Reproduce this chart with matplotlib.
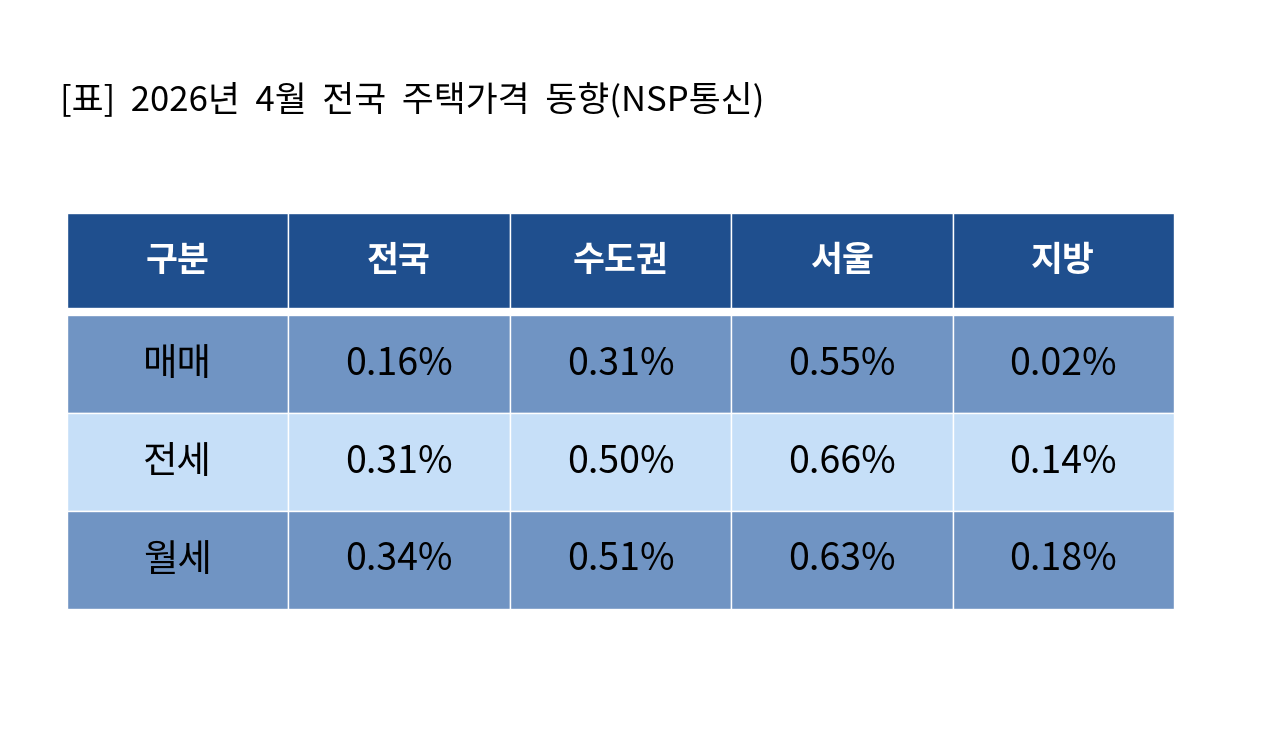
import matplotlib
matplotlib.use("Agg")
import matplotlib.pyplot as plt
from matplotlib.patches import Rectangle

plt.rcParams['font.family'] = ['Noto Sans CJK KR', 'DejaVu Sans']

title = "[표]  2026년  4월  전국  주택가격  동향(NSP통신)"
columns = ["구분", "전국", "수도권", "서울", "지방"]
row_labels = ["매매", "전세", "월세"]
values = [
    ["0.16%", "0.31%", "0.55%", "0.02%"],
    ["0.31%", "0.50%", "0.66%", "0.14%"],
    ["0.34%", "0.51%", "0.63%", "0.18%"],
]

fig = plt.figure(figsize=(12.8, 7.48), dpi=100)
ax = fig.add_axes([0, 0, 1, 1])
ax.set_xlim(0, 1280); ax.set_ylim(748, 0); ax.axis('off')

x0, x1 = 67, 1174
colw = (x1 - x0) / len(columns)
hy0, hy1 = 213, 308
ry0, rh = 315, 98
header_c = "#1F4F8E"
row_c = ["#7094C3", "#C6DFF8", "#7094C3"]

ax.text(60, 100, title, fontsize=25, va='center', ha='left', color='black')

for j, c in enumerate(columns):
    ax.add_patch(Rectangle((x0 + j*colw, hy0), colw, hy1-hy0, fc=header_c, ec='white', lw=1))
    ax.text(x0 + (j+0.5)*colw, (hy0+hy1)/2, c, fontsize=25, fontweight='bold',
            color='white', ha='center', va='center')

for i, r in enumerate(row_labels):
    y = ry0 + i*rh
    cells = [r] + values[i]
    for j, t in enumerate(cells):
        ax.add_patch(Rectangle((x0 + j*colw, y), colw, rh, fc=row_c[i], ec='white', lw=1))
        ax.text(x0 + (j+0.5)*colw, y + rh/2, t, fontsize=27, color='black',
                ha='center', va='center')

fig.savefig("out.png", dpi=100)
